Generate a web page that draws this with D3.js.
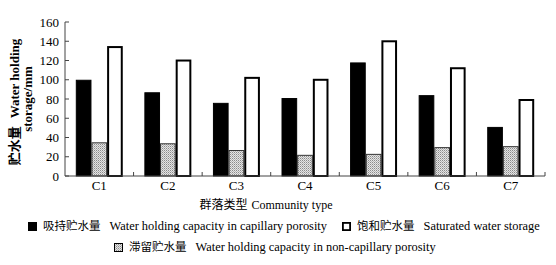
<!DOCTYPE html>
<html>
<head>
<meta charset="utf-8">
<script src="https://cdn.jsdelivr.net/npm/d3@7"></script>
<style>
  html, body { margin: 0; padding: 0; background: #fff; overflow: hidden; }
  svg { display: block; }
  text { fill: #000; }
</style>
</head>
<body>
<div id="chart"></div>
<script>
// data
const categories = ["C1", "C2", "C3", "C4", "C5", "C6", "C7"];
const capillary = [100, 87, 76, 81, 118, 84, 51];       // 吸持贮水量
const nonCapillary = [35, 34, 27, 22, 23, 30, 31];      // 滞留贮水量
const saturated = [135, 121, 103, 101, 141, 113, 80];   // 饱和贮水量
const yTicks = [0, 20, 40, 60, 80, 100, 120, 140, 160];

const width = 556, height = 265;
const margin = { top: 22, right: 11, bottom: 89, left: 65 };

const serif = "'Liberation Serif', 'Times New Roman', serif";
const cjk = "'Noto Sans CJK SC', sans-serif";
const axisColor = "#444";

const svg = d3.select("#chart").append("svg")
  .attr("width", width)
  .attr("height", height);

// dotted fill for the non-capillary bars
const pat = svg.append("defs").append("pattern")
  .attr("id", "dots")
  .attr("width", 2)
  .attr("height", 2)
  .attr("patternUnits", "userSpaceOnUse");
pat.append("rect").attr("width", 2).attr("height", 2).attr("fill", "#e4e4e4");
pat.append("rect").attr("width", 1).attr("height", 1).attr("fill", "#8a8a8a");
pat.append("rect").attr("x", 1).attr("y", 1).attr("width", 1).attr("height", 1).attr("fill", "#b5b5b5");

const x = d3.scaleBand()
  .domain(categories)
  .range([margin.left, width - margin.right])
  .padding(0);

const series = [
  { key: "cap", values: capillary, fill: "#000", stroke: "#000", sw: 1 },
  { key: "non", values: nonCapillary, fill: "url(#dots)", stroke: "#333", sw: 1 },
  { key: "sat", values: saturated, fill: "#fff", stroke: "#000", sw: 2 }
];

// three bars side by side, centred in each category
const groupWidth = x.bandwidth() * 0.685;
const xs = d3.scaleBand()
  .domain(series.map(s => s.key))
  .range([(x.bandwidth() - groupWidth) / 2, (x.bandwidth() + groupWidth) / 2])
  .padding(0);

const y = d3.scaleLinear()
  .domain([0, 160])
  .range([height - margin.bottom, margin.top]);
const y0 = y(0);

// bars
series.forEach(s => {
  svg.selectAll("rect." + s.key)
    .data(categories)
    .join("rect")
    .attr("class", s.key)
    .attr("x", d => x(d) + xs(s.key) + s.sw / 2)
    .attr("y", (d, i) => y(s.values[i]) + s.sw / 2)
    .attr("width", xs.bandwidth() - s.sw)
    .attr("height", (d, i) => y0 - y(s.values[i]) - s.sw / 2)
    .attr("fill", s.fill)
    .attr("stroke", s.stroke)
    .attr("stroke-width", s.sw);
});

// y axis, ticks pointing inwards
svg.append("line")
  .attr("x1", margin.left).attr("x2", margin.left)
  .attr("y1", y(160)).attr("y2", y0)
  .attr("stroke", axisColor);
svg.selectAll("line.ytick")
  .data(yTicks)
  .join("line")
  .attr("class", "ytick")
  .attr("x1", margin.left).attr("x2", margin.left + 4)
  .attr("y1", d => y(d)).attr("y2", d => y(d))
  .attr("stroke", axisColor);
svg.selectAll("text.ylab")
  .data(yTicks)
  .join("text")
  .attr("class", "ylab")
  .attr("x", margin.left - 6)
  .attr("y", d => y(d) + 4.5)
  .attr("text-anchor", "end")
  .attr("font-family", serif)
  .attr("font-size", 13)
  .text(d => d);

// x axis: ticks at group boundaries, labels at centres
svg.append("line")
  .attr("x1", margin.left).attr("x2", width - margin.right)
  .attr("y1", y0).attr("y2", y0)
  .attr("stroke", axisColor);
svg.selectAll("line.xtick")
  .data(categories)
  .join("line")
  .attr("class", "xtick")
  .attr("x1", d => x(d) + x.bandwidth())
  .attr("x2", d => x(d) + x.bandwidth())
  .attr("y1", y0).attr("y2", y0 - 4)
  .attr("stroke", axisColor);
svg.selectAll("text.xlab")
  .data(categories)
  .join("text")
  .attr("class", "xlab")
  .attr("x", d => x(d) + x.bandwidth() / 2)
  .attr("y", y0 + 14)
  .attr("text-anchor", "middle")
  .attr("font-family", serif)
  .attr("font-size", 13)
  .text(d => d);

// axis titles
const xTitle = svg.append("text")
  .attr("x", 266)
  .attr("y", 209)
  .attr("text-anchor", "middle")
  .attr("font-size", 12);
xTitle.append("tspan").attr("font-family", cjk).text("群落类型");
xTitle.append("tspan").attr("font-family", serif).attr("dx", 4).text("Community type");

const yl1 = svg.append("text")
  .attr("x", 19).attr("y", 102)
  .attr("transform", "rotate(-90,19,102)")
  .attr("text-anchor", "middle")
  .attr("font-size", 13)
  .attr("font-weight", "bold");
yl1.append("tspan").attr("font-family", cjk).text("贮水量");
yl1.append("tspan").attr("font-family", serif).attr("dx", 8).text("Water holding");
svg.append("text")
  .attr("x", 32).attr("y", 99)
  .attr("transform", "rotate(-90,32,99)")
  .attr("text-anchor", "middle")
  .attr("font-family", serif)
  .attr("font-size", 13)
  .attr("font-weight", "bold")
  .text("storage/mm");

// legend
const legendItems = [
  { x: 28, y: 226, fill: "#000", sw: 1, zh: "吸持贮水量", en: "Water holding capacity in capillary porosity" },
  { x: 342, y: 226, fill: "#fff", sw: 1.8, zh: "饱和贮水量", en: "Saturated water storage" },
  { x: 114, y: 247, fill: "url(#dots)", sw: 1, zh: "滞留贮水量", en: "Water holding capacity in non-capillary porosity" }
];
legendItems.forEach(it => {
  svg.append("rect")
    .attr("x", it.x + it.sw / 2)
    .attr("y", it.y - 4 + it.sw / 2)
    .attr("width", 9 - it.sw)
    .attr("height", 9 - it.sw)
    .attr("fill", it.fill)
    .attr("stroke", "#000")
    .attr("stroke-width", it.sw);
  const t = svg.append("text")
    .attr("x", it.x + 15)
    .attr("y", it.y + 4)
    .attr("font-size", 11.5);
  t.append("tspan").attr("font-family", cjk).text(it.zh);
  t.append("tspan").attr("font-family", serif).attr("font-size", 12.4).attr("dx", 9).text(it.en);
});
</script>
</body>
</html>
